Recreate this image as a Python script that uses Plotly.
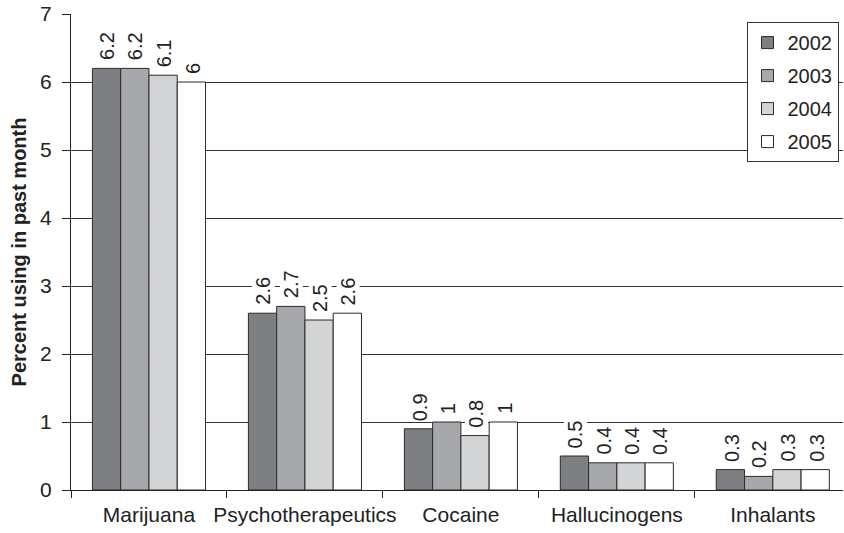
import plotly.graph_objects as go

categories = ["Marijuana", "Psychotherapeutics", "Cocaine", "Hallucinogens", "Inhalants"]
years = ["2002", "2003", "2004", "2005"]
values_2002 = [6.2, 2.6, 0.9, 0.5, 0.3]
values_2003 = [6.2, 2.7, 1.0, 0.4, 0.2]
values_2004 = [6.1, 2.5, 0.8, 0.4, 0.3]
values_2005 = [6.0, 2.6, 1.0, 0.4, 0.3]
series = [values_2002, values_2003, values_2004, values_2005]
colors = ["#7e7f83", "#a7a8ac", "#d3d4d6", "#ffffff"]

FONT = "Liberation Sans, Arial, sans-serif"
INK = "#222222"

# pixel geometry of the plotting area (used to place the value labels)
W, H = 844, 533
ML, MR, MT, MB = 71, 1, 14, 43
X_RANGE = [-0.5, 4.45]
BARGAP = 0.275
px_per_cat = (W - ML - MR) / (X_RANGE[1] - X_RANGE[0])
bar_px = px_per_cat * (1 - BARGAP) / len(series)

fig = go.Figure()
for year, vals, col in zip(years, series, colors):
    fig.add_trace(go.Bar(
        name=year,
        legendgroup=year,
        x=categories,
        y=vals,
        marker=dict(color=col, line=dict(color="#2a2a2a", width=1)),
    ))

# value labels above each bar, rotated, with a white backing
annotations = []
for i, vals in enumerate(series):
    shift = (i - (len(series) - 1) / 2) * bar_px
    for cat, v in zip(categories, vals):
        annotations.append(dict(
            x=cat, y=v, xref="x", yref="y",
            text=f"{v:g}", showarrow=False,
            textangle=-90, xanchor="center", yanchor="bottom",
            xshift=shift + 1, yshift=7,
            bgcolor="white", borderpad=0,
            font=dict(family=FONT, size=20, color=INK),
        ))

fig.update_layout(
    width=W,
    height=H,
    barmode="group",
    bargap=BARGAP,
    bargroupgap=0,
    plot_bgcolor="white",
    paper_bgcolor="white",
    margin=dict(l=ML, r=MR, t=MT, b=MB),
    font=dict(family=FONT, size=21, color=INK),
    annotations=annotations,
    legend=dict(
        x=0.875, y=0.983, xanchor="left", yanchor="top",
        bgcolor="white", bordercolor="#333333", borderwidth=1,
        font=dict(family=FONT, size=20, color=INK),
        traceorder="grouped", tracegroupgap=4,
    ),
    xaxis=dict(
        range=X_RANGE,
        automargin=False,
        tickangle=0,
        showline=True, linecolor=INK, linewidth=1,
        ticks="outside", tickson="boundaries", ticklen=7,
        tickcolor=INK,
        ticklabelstandoff=6,
        showgrid=False,
        tickfont=dict(family=FONT, size=21, color=INK),
    ),
    yaxis=dict(
        range=[0, 7],
        automargin=False,
        tickvals=[0, 1, 2, 3, 4, 5, 6, 7],
        showline=True, linecolor=INK, linewidth=1,
        ticks="outside", ticklen=8, tickcolor=INK,
        ticklabelstandoff=6,
        showgrid=True, gridcolor="#333333", gridwidth=1,
        zeroline=False,
        tickfont=dict(family=FONT, size=21, color=INK),
        title=dict(text="<b>Percent using in past month</b>",
                   font=dict(family=FONT, size=20, color=INK),
                   standoff=8),
    ),
)

fig.write_html("out.html")
